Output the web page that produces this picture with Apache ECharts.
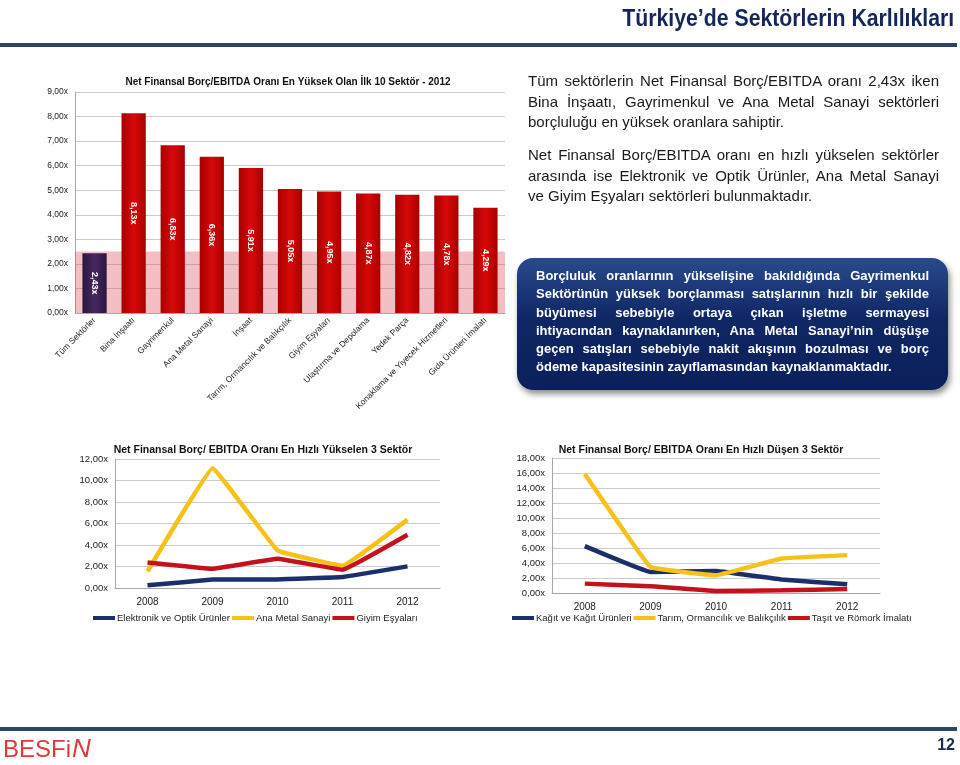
<!DOCTYPE html>
<html>
<head>
<meta charset="utf-8">
<script src="https://cdn.jsdelivr.net/npm/echarts@6/dist/echarts.min.js"></script>
<style>
  html, body { margin: 0; padding: 0; background: #fff; }
  #page { position: relative; width: 960px; height: 765px; overflow: hidden; font-family: "Liberation Sans", Arial, sans-serif; }
  #chart { position: absolute; left: 0; top: 0; width: 960px; height: 765px; }
  .rule { position: absolute; left: 0; width: 957px; height: 4px; background: #2e4465; }
  #head { position: absolute; right: 6px; top: 5px; font-weight: bold; font-size: 23px; color: #14265a; white-space: nowrap; transform-origin: right top; }
  .para { position: absolute; left: 528px; width: 411px; font-size: 15px; color: #1a1a1a; }
  .para div, .box div { white-space: nowrap; text-align: justify; text-align-last: justify; height: 20.5px; line-height: 20.5px; }
  .para div.last, .box div.last { text-align-last: left; }
  .box { position: absolute; left: 517px; top: 258px; width: 431px; height: 132px; border-radius: 16px;
         background: linear-gradient(#2a4a8c, #102766 45%, #0b205a); box-shadow: 2px 4px 6px rgba(0,0,0,0.45); }
  .box .txt { position: absolute; left: 19px; top: 9px; width: 393px; color: #fff; font-weight: bold; font-size: 13px; }
  .box .txt div { height: 18.3px; line-height: 18.3px; }
  #logo { position: absolute; left: 3px; top: 733px; font-size: 24px; color: #e0383c; white-space: nowrap; }
  #logo i { margin-left: 1px; font-size: 26px; }
  #pageno { position: absolute; right: 5px; top: 736px; font-size: 16px; font-weight: bold; color: #1a2c55; }
</style>
</head>
<body>
<div id="page">
  <div id="chart"></div>
  <div id="head">Türkiye’de Sektörlerin Karlılıkları</div>
  <div class="rule" style="top:43px"></div>

  <div class="para" style="top:71px">
    <div>Tüm sektörlerin Net Finansal Borç/EBITDA oranı 2,43x iken</div>
    <div>Bina İnşaatı, Gayrimenkul ve Ana Metal Sanayi sektörleri</div>
    <div class="last">borçluluğu en yüksek oranlara sahiptir.</div>
  </div>
  <div class="para" style="top:145px">
    <div>Net Finansal Borç/EBITDA oranı en hızlı yükselen sektörler</div>
    <div>arasında ise Elektronik ve Optik Ürünler, Ana Metal Sanayi</div>
    <div class="last">ve Giyim Eşyaları sektörleri bulunmaktadır.</div>
  </div>

  <div class="box">
    <div class="txt">
      <div>Borçluluk oranlarının yükselişine bakıldığında Gayrimenkul</div>
      <div>Sektörünün yüksek borçlanması satışlarının hızlı bir şekilde</div>
      <div>büyümesi sebebiyle ortaya çıkan işletme sermayesi</div>
      <div>ihtiyacından kaynaklanırken, Ana Metal Sanayi’nin düşüşe</div>
      <div>geçen satışları sebebiyle nakit akışının bozulması ve borç</div>
      <div class="last">ödeme kapasitesinin zayıflamasından kaynaklanmaktadır.</div>
    </div>
  </div>

  <div class="rule" style="top:727px"></div>
  <div id="logo">BESFi<i>N</i></div>
  <div id="pageno">12</div>
</div>
<script>
// bar chart: top 10 sectors 2012
var sectors = ['Tüm Sektörler', 'Bina İnşaatı', 'Gayrimenkul', 'Ana Metal Sanayi', 'İnşaat',
               'Tarım, Ormancılık ve Balıkçılık', 'Giyim Eşyaları', 'Ulaştırma ve Depolama',
               'Yedek Parça', 'Konaklama ve Yiyecek Hizmetleri', 'Gıda Ürünleri İmalatı'];
var ratio2012 = [2.43, 8.13, 6.83, 6.36, 5.91, 5.05, 4.95, 4.87, 4.82, 4.78, 4.29];

// line charts
var years = ['2008', '2009', '2010', '2011', '2012'];
var risingNames = ['Elektronik ve Optik Ürünler', 'Ana Metal Sanayi', 'Giyim Eşyaları'];
var elektronik = [0.25, 0.78, 0.80, 1.02, 2.01];
var anaMetal = [1.55, 11.15, 3.50, 2.07, 6.36];
var giyim = [2.38, 1.79, 2.72, 1.70, 4.95];

var fallingNames = ['Kağıt ve Kağıt Ürünleri', 'Tarım, Ormancılık ve Balıkçılık', 'Taşıt ve Römork İmalatı'];
var kagit = [6.25, 2.81, 2.95, 1.79, 1.16];
var tarim = [15.86, 3.48, 2.37, 4.60, 5.05];
var tasit = [1.25, 0.89, 0.27, 0.36, 0.54];

var fmt = function(v){ return Number(v).toFixed(2).replace('.', ',') + 'x'; };

// condense header to its width on the slide
var head = document.getElementById('head');
head.style.transform = 'scaleX(' + (332 / head.getBoundingClientRect().width) + ')';

var navy = '#1c2f6c', yellow = '#f6c21a', red = '#c3121b';
var font = '"Liberation Sans", Arial, sans-serif';

var yAxisBase = function(idx, max){
    return {
        type: 'value', gridIndex: idx, min: 0, max: max, interval: idx === 0 ? 1 : 2,
        axisLine: {show: true, lineStyle: {color: '#a8a8a8'}},
        axisTick: {show: false},
        splitLine: {lineStyle: {color: '#cbcbcb'}},
        axisLabel: {formatter: fmt, fontSize: idx === 0 ? 8.5 : 9.5, color: '#222', fontFamily: font, margin: 7}
    };
};

var lineSeries = function(name, data, color, idx){
    return {
        name: name, type: 'line', xAxisIndex: idx, yAxisIndex: idx, data: data,
        symbol: 'none', smooth: 0.06,
        lineStyle: {width: 4.5, color: color}, itemStyle: {color: color}
    };
};

var barData = [];
for (var i = 0; i < ratio2012.length; i++) {
    var c = i === 0 ? ['#2a1640', '#46285e'] : ['#a80000', '#d80808'];
    barData.push({
        value: ratio2012[i],
        itemStyle: {color: new echarts.graphic.LinearGradient(0, 0, 1, 0, [
            {offset: 0, color: c[0]}, {offset: 0.5, color: c[1]}, {offset: 1, color: c[0]}
        ])}
    });
}

var myChart = echarts.init(document.getElementById('chart'));

var option = {
    animation: false,
    textStyle: {fontFamily: font},
    title: [
        {text: 'Net Finansal Borç/EBITDA Oranı En Yüksek Olan İlk 10 Sektör - 2012', left: 283, top: 72, textAlign: 'center',
         textStyle: {fontSize: 10, fontWeight: 'bold', color: '#111', fontFamily: font}},
        {text: 'Net Finansal Borç/ EBITDA Oranı En Hızlı Yükselen 3 Sektör', left: 258, top: 440, textAlign: 'center',
         textStyle: {fontSize: 10.5, fontWeight: 'bold', color: '#111', fontFamily: font}},
        {text: 'Net Finansal Borç/ EBITDA Oranı En Hızlı Düşen 3 Sektör', left: 696, top: 440, textAlign: 'center',
         textStyle: {fontSize: 10.5, fontWeight: 'bold', color: '#111', fontFamily: font}}
    ],
    legend: [
        {data: risingNames, left: 88, top: 608, icon: 'rect', itemWidth: 22, itemHeight: 4, itemGap: 2,
         textStyle: {fontSize: 9.5, color: '#222', fontFamily: font, padding: [0, 0, 0, -3]}},
        {data: fallingNames, left: 507, top: 608, icon: 'rect', itemWidth: 22, itemHeight: 4, itemGap: 2,
         textStyle: {fontSize: 9.5, color: '#222', fontFamily: font, padding: [0, 0, 0, -3]}}
    ],
    grid: [
        {left: 75, right: 455, top: 92, bottom: 452},
        {left: 115, right: 520, top: 459, bottom: 177},
        {left: 552, right: 80, top: 458, bottom: 172}
    ],
    xAxis: [
        {type: 'category', gridIndex: 0, data: sectors,
         axisLine: {lineStyle: {color: '#a8a8a8'}}, axisTick: {lineStyle: {color: '#a8a8a8'}, length: 4},
         axisLabel: {interval: 0, rotate: 45, fontSize: 8.5, color: '#222', fontFamily: font, margin: 6}},
        {type: 'category', gridIndex: 1, data: years,
         axisLine: {lineStyle: {color: '#a8a8a8'}}, axisTick: {lineStyle: {color: '#a8a8a8'}, length: 5},
         axisLabel: {fontSize: 10, color: '#222', fontFamily: font, margin: 9}},
        {type: 'category', gridIndex: 2, data: years,
         axisLine: {lineStyle: {color: '#a8a8a8'}}, axisTick: {lineStyle: {color: '#a8a8a8'}, length: 5},
         axisLabel: {fontSize: 10, color: '#222', fontFamily: font, margin: 9}}
    ],
    yAxis: [yAxisBase(0, 9), yAxisBase(1, 12), yAxisBase(2, 18)],
    series: [
        {
            name: 'Net Finansal Borç/EBITDA', type: 'bar', xAxisIndex: 0, yAxisIndex: 0,
            data: barData, barWidth: '62%',
            label: {show: true, position: 'inside', rotate: -90, align: 'center', verticalAlign: 'middle',
                    formatter: function(p){ return fmt(p.value); },
                    fontSize: 9, fontWeight: 'bold', color: '#fff', fontFamily: font},
            markArea: {silent: true, itemStyle: {color: 'rgba(215,60,75,0.33)'}, label: {show: false},
                       data: [[{yAxis: 0}, {yAxis: 2.5}]]}
        },
        lineSeries(risingNames[0], elektronik, navy, 1),
        lineSeries(risingNames[1], anaMetal, yellow, 1),
        lineSeries(risingNames[2], giyim, red, 1),
        lineSeries(fallingNames[0], kagit, navy, 2),
        lineSeries(fallingNames[1], tarim, yellow, 2),
        lineSeries(fallingNames[2], tasit, red, 2)
    ]
};

myChart.setOption(option);
</script>
</body>
</html>
